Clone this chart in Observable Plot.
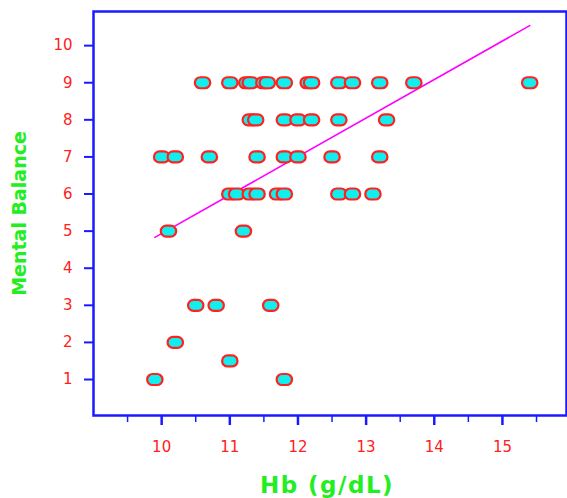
<!DOCTYPE html>
<html><head><meta charset="utf-8">
<script src="https://cdn.jsdelivr.net/npm/d3@7"></script>
<script src="https://cdn.jsdelivr.net/npm/@observablehq/plot@0.6"></script>
<style>body{margin:0;background:#fff}</style>
</head><body><div id="chart"></div>
<script>
// Hb (g/dL) and Mental Balance score for each subject
const hb = [
  10.6, 11.0, 11.25, 11.3, 11.5, 11.55, 11.8, 12.15, 12.2, 12.6, 12.8, 13.2, 13.7, 15.4,
  11.3, 11.38, 11.8, 12.0, 12.2, 12.6, 13.3,
  10.0, 10.2, 10.7, 11.4, 11.8, 12.0, 12.5, 13.2,
  11.0, 11.1, 11.3, 11.4, 11.7, 11.8, 12.6, 12.8, 13.1,
  10.1, 11.2,
  10.5, 10.8, 11.6,
  10.2,
  11.0,
  9.9, 11.8
];
const mental = [
  9, 9, 9, 9, 9, 9, 9, 9, 9, 9, 9, 9, 9, 9,
  8, 8, 8, 8, 8, 8, 8,
  7, 7, 7, 7, 7, 7, 7, 7,
  6, 6, 6, 6, 6, 6, 6, 6, 6,
  5, 5,
  3, 3, 3,
  2,
  1.5,
  1, 1
];
const fitHb = [9.9, 15.4];
const fitMental = [4.83, 10.54];
const xTicks = [10, 11, 12, 13, 14, 15];
const xMinorTicks = [9.5, 10.5, 11.5, 12.5, 13.5, 14.5, 15.5];
const yTicks = [1, 2, 3, 4, 5, 6, 7, 8, 9, 10];
const xLabel = "Hb (g/dL)";
const yLabel = "Mental Balance";

const points = hb.map((x, i) => ({x, y: mental[i]}));
const fit = fitHb.map((x, i) => ({x, y: fitMental[i]}));

const blue = "#1a1aff", red = "#ff2020", green = "#22ee22", cyan = "#11eeee", magenta = "#ff00ff";

const stadium = {
  draw(ctx, size) {
    const r = Math.sqrt(size / Math.PI);
    const a = r * 0.4;
    ctx.moveTo(-a, -r);
    ctx.lineTo(a, -r);
    ctx.arc(a, 0, r, -Math.PI / 2, Math.PI / 2);
    ctx.lineTo(-a, r);
    ctx.arc(-a, 0, r, Math.PI / 2, Math.PI * 3 / 2);
    ctx.closePath();
  }
};

const chart = Plot.plot({
  width: 567, height: 498,
  marginLeft: 93, marginTop: 11, marginRight: 1, marginBottom: 83,
  style: {fontFamily: "DejaVu Sans", fontSize: "14px", background: "white"},
  x: {domain: [9, 15.94], label: null},
  y: {domain: [0.03, 10.92], label: null},
  marks: [
    Plot.axisX(xMinorTicks, {tickSize: 7, stroke: blue, strokeWidth: 1.5, fill: "none", label: null}),
    Plot.axisX(xTicks, {tickSize: 10, stroke: blue, strokeWidth: 2.5, fill: red, tickPadding: 16, label: null, fontSize: 15}),
    Plot.axisY(yTicks, {tickSize: 9, stroke: blue, strokeWidth: 2, fill: red, tickPadding: 12, label: null, fontSize: 15}),
    Plot.line(fit, {x: "x", y: "y", stroke: magenta, strokeWidth: 1.6}),
    Plot.dot(points, {x: "x", y: "y", r: 5.5, symbol: stadium, fill: cyan, stroke: red, strokeWidth: 2.2}),
    Plot.frame({stroke: blue, strokeWidth: 2.5}),
    Plot.text([yLabel], {text: d => d, frameAnchor: "left", dx: -74, rotate: -90, textAnchor: "middle", lineAnchor: "middle", fill: green, fontSize: 19, fontWeight: "bold"}),
    Plot.text([xLabel], {text: d => d, frameAnchor: "bottom", dx: -3, dy: 70, textAnchor: "middle", lineAnchor: "middle", fill: green, fontSize: 23, fontWeight: "bold"})
  ]
});
d3.select(chart).selectAll("text").filter(function() { return this.textContent === xLabel; }).style("letter-spacing", "1.5px");
document.getElementById("chart").appendChild(chart);
</script>
</body></html>
